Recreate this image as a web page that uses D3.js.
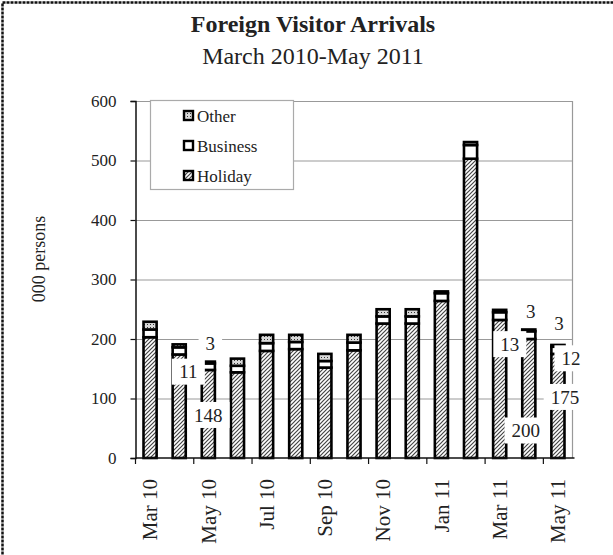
<!DOCTYPE html>
<html>
<head>
<meta charset="utf-8">
<script src="https://cdn.jsdelivr.net/npm/d3@7"></script>
<style>
    body { margin: 0; background: #fff; }
    svg { display: block; font-family: "Liberation Serif", "Times New Roman", serif; }
</style>
</head>
<body>
<svg id="chart" width="613" height="555"></svg>
<script>
// Data (000 persons)
const months = ["Mar 10", "Apr 10", "May 10", "Jun 10", "Jul 10", "Aug 10", "Sep 10", "Oct 10",
    "Nov 10", "Dec 10", "Jan 11", "Feb 11", "Mar 11", "Apr 11", "May 11"];
const holiday = [203, 174, 148, 144, 180, 183, 152, 181, 226, 226, 264, 503, 232, 200, 175];
const business = [13, 12, 11, 11, 13, 12, 11, 13, 12, 12, 13, 23, 13, 13, 12];
const other = [13, 5, 3, 12, 14, 12, 12, 13, 12, 12, 3, 5, 4, 3, 3];
const seriesNames = ["Holiday", "Business", "Other"];
const yTicks = [0, 100, 200, 300, 400, 500, 600];
const xTickLabels = ["Mar 10", "May 10", "Jul 10", "Sep 10", "Nov 10", "Jan 11", "Mar 11", "May 11"];
const labelledMonths = ["May 10", "Apr 11", "May 11"];

// Hand-moved data labels (pixel nudges from the segment centre)
const labelNudge = {
    "May 10|Holiday": [0, 1], "May 10|Business": [-20, 5], "May 10|Other": [2, -19],
    "Apr 11|Holiday": [-3, 32], "Apr 11|Business": [-19, 9], "Apr 11|Other": [2, -19],
    "May 11|Holiday": [7, -9], "May 11|Business": [13, 8], "May 11|Other": [1, -22]
};

function createChart() {
    const svg = d3.select("#chart");
    const left = 135.5, right = 572.5, top = 101, bottom = 458;

    const table = months.map((m, i) => ({
        month: m, Holiday: holiday[i], Business: business[i], Other: other[i]
    }));

    // Patterns for the monochrome fills
    const defs = svg.append("defs");
    const hatch = defs.append("pattern")
        .attr("id", "hatch")
        .attr("patternUnits", "userSpaceOnUse")
        .attr("width", 4)
        .attr("height", 4);
    hatch.append("rect").attr("width", 4).attr("height", 4).attr("fill", "#fff");
    hatch.append("path")
        .attr("d", "M-1,1 l2,-2 M0,4 l4,-4 M3,5 l2,-2")
        .attr("stroke", "#444")
        .attr("stroke-width", 1.2);

    const dots = defs.append("pattern")
        .attr("id", "dots")
        .attr("patternUnits", "userSpaceOnUse")
        .attr("width", 3)
        .attr("height", 3);
    dots.append("rect").attr("width", 3).attr("height", 3).attr("fill", "#d8d8d8");
    dots.append("rect").attr("width", 1).attr("height", 1).attr("fill", "#333");

    const fills = { Holiday: "url(#hatch)", Business: "#fff", Other: "url(#dots)" };

    // Dashed outer frame
    svg.append("rect")
        .attr("x", 2.5)
        .attr("y", 2.5)
        .attr("width", 640)
        .attr("height", 600)
        .attr("fill", "none")
        .attr("stroke", "#111")
        .attr("stroke-width", 2.5)
        .attr("stroke-dasharray", "3,1");

    // Titles
    svg.append("text")
        .attr("x", 313)
        .attr("y", 32)
        .attr("text-anchor", "middle")
        .style("font-size", "24px")
        .style("font-weight", "bold")
        .style("fill", "#222")
        .text("Foreign Visitor Arrivals");
    svg.append("text")
        .attr("x", 313)
        .attr("y", 64)
        .attr("text-anchor", "middle")
        .style("font-size", "24px")
        .style("fill", "#222")
        .text("March 2010-May 2011");

    const x = d3.scaleBand()
        .domain(months)
        .range([left, right])
        .paddingInner(0.55)
        .paddingOuter(0.275);

    const y = d3.scaleLinear()
        .domain([0, 600])
        .range([bottom, top]);

    // Gridlines and plot border
    svg.append("g")
        .selectAll("line")
        .data(yTicks.filter(d => d > 0))
        .enter()
        .append("line")
        .attr("x1", left)
        .attr("x2", right)
        .attr("y1", d => y(d) + 0.5)
        .attr("y2", d => y(d) + 0.5)
        .attr("stroke", "#999")
        .attr("stroke-width", 1.2);
    svg.append("line")
        .attr("x1", right).attr("x2", right)
        .attr("y1", top).attr("y2", bottom)
        .attr("stroke", "#999")
        .attr("stroke-width", 1.2);

    // Y axis
    const yAxis = svg.append("g")
        .attr("transform", `translate(${left},0)`)
        .call(d3.axisLeft(y).tickValues(yTicks).tickSize(5).tickPadding(14));
    yAxis.select(".domain").attr("stroke", "#111").attr("stroke-width", 1.5);
    yAxis.selectAll(".tick line").attr("stroke", "#111").attr("stroke-width", 1.2);
    yAxis.selectAll(".tick text")
        .style("font-family", "Liberation Serif")
        .style("font-size", "17px")
        .style("fill", "#222");

    svg.append("text")
        .attr("transform", "translate(45,259) rotate(-90)")
        .attr("text-anchor", "middle")
        .style("font-size", "18px")
        .style("fill", "#222")
        .text("000 persons");

    // Stacked bars
    const stack = d3.stack().keys(seriesNames);
    const layers = stack(table);

    const layer = svg.append("g")
        .selectAll("g")
        .data(layers)
        .enter()
        .append("g")
        .attr("fill", d => fills[d.key]);

    layer.selectAll("rect")
        .data(d => d)
        .enter()
        .append("rect")
        .attr("x", d => x(d.data.month))
        .attr("y", d => y(d[1]))
        .attr("width", x.bandwidth())
        .attr("height", d => y(d[0]) - y(d[1]))
        .attr("stroke", "#000")
        .attr("stroke-width", 2.6);

    // X axis: ticks every two months at the band boundaries
    const gap = x.step() - x.bandwidth();
    svg.append("line")
        .attr("x1", left).attr("x2", right + 2)
        .attr("y1", bottom).attr("y2", bottom)
        .attr("stroke", "#111")
        .attr("stroke-width", 1.5);
    svg.append("g")
        .selectAll("line")
        .data(months.filter((m, i) => i % 2 === 0))
        .enter()
        .append("line")
        .attr("x1", d => x(d) - gap / 2)
        .attr("x2", d => x(d) - gap / 2)
        .attr("y1", bottom)
        .attr("y2", bottom + 6)
        .attr("stroke", "#111")
        .attr("stroke-width", 1.2);

    svg.append("g")
        .selectAll("text")
        .data(xTickLabels)
        .enter()
        .append("text")
        .attr("transform", d => `translate(${x(d) + x.bandwidth() / 2},479) rotate(-90)`)
        .attr("text-anchor", "end")
        .attr("dy", "0.35em")
        .style("font-size", "21px")
        .style("fill", "#222")
        .text(d => d);

    // Data labels with white boxes
    const labelData = [];
    layers.forEach(l => {
        l.forEach(v => {
            if (labelledMonths.includes(v.data.month)) {
                const nudge = labelNudge[v.data.month + "|" + l.key];
                labelData.push({
                    text: String(v.data[l.key]),
                    cx: x(v.data.month) + x.bandwidth() / 2 + nudge[0],
                    cy: (y(v[0]) + y(v[1])) / 2 + nudge[1]
                });
            }
        });
    });

    const labels = svg.append("g")
        .selectAll("g")
        .data(labelData)
        .enter()
        .append("g")
        .attr("transform", d => `translate(${d.cx},${d.cy})`);

    labels.append("rect")
        .attr("x", d => -(d.text.length * 9.5 + 14) / 2)
        .attr("y", -13)
        .attr("width", d => d.text.length * 9.5 + 14)
        .attr("height", 26)
        .attr("fill", "#fff");

    labels.append("text")
        .attr("text-anchor", "middle")
        .attr("dy", "0.35em")
        .style("font-size", "19px")
        .style("fill", "#222")
        .text(d => d.text);

    // Legend
    const legend = svg.append("g");
    legend.append("rect")
        .attr("x", 150.5)
        .attr("y", 100.5)
        .attr("width", 143)
        .attr("height", 89)
        .attr("fill", "#fff")
        .attr("stroke", "#aaa")
        .attr("stroke-width", 1.2);

    const items = legend.selectAll(".legend")
        .data(seriesNames.slice().reverse())
        .enter()
        .append("g")
        .attr("class", "legend")
        .attr("transform", (d, i) => `translate(184,${116 + i * 30})`);

    items.append("rect")
        .attr("x", 0)
        .attr("y", -5)
        .attr("width", 9)
        .attr("height", 9)
        .attr("fill", d => fills[d])
        .attr("stroke", "#000")
        .attr("stroke-width", 2.4);

    items.append("text")
        .attr("x", 13)
        .attr("y", 0)
        .attr("dy", "0.35em")
        .style("font-size", "17px")
        .style("fill", "#222")
        .text(d => d);
}

createChart();
</script>
</body>
</html>
